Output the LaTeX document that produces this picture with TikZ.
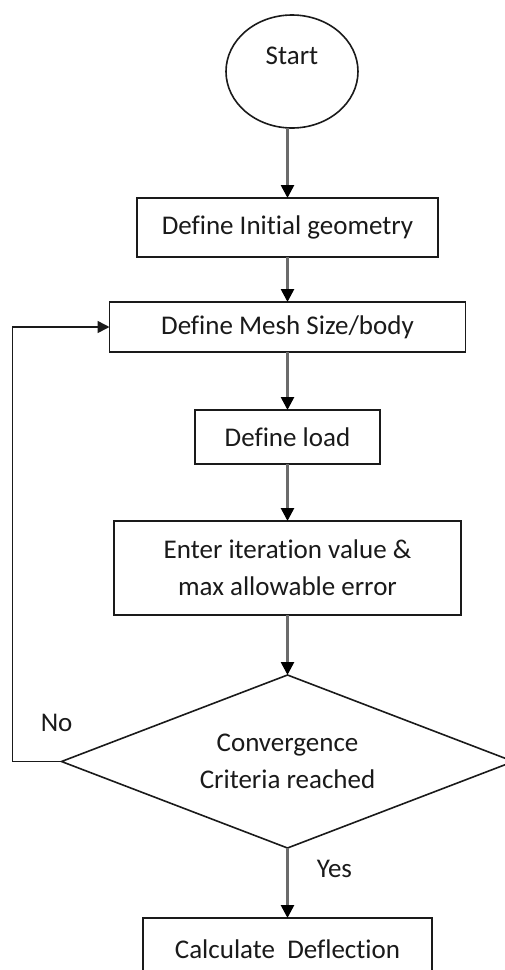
\documentclass[tikz,border=0pt]{standalone}
\usepackage{fontspec}
\setmainfont{Carlito}[Ligatures=CommonOff]
\usepackage{tikz}
\usetikzlibrary{arrows.meta,positioning,shapes.geometric}
\definecolor{cInk}{HTML}{1A1A1A}
\definecolor{cShaft}{HTML}{6B6B6B}
\tikzset{
  box/.style      ={rectangle,draw=cInk,line width=1.6pt,fill=white,
                    align=center,inner sep=0pt,outer sep=0pt,text=cInk,
                    font=\fontsize{27}{37}\selectfont},
  startnode/.style={box,ellipse,minimum width=132pt,minimum height=113pt,
                    text height=19pt,text depth=33pt},
  decision/.style ={box,diamond,aspect=2.6,minimum width=452pt,
                    minimum height=173pt},
  ar/.style       ={-{Triangle[length=13pt,width=13pt,color=black]},
                    line width=2.6pt,cShaft},
  back/.style     ={-{Triangle[length=12pt,width=12pt]},line width=1.6pt,cInk},
  lbl/.style      ={font=\fontsize{27}{37}\selectfont,text=cInk,inner sep=0pt},
}
\begin{document}
\begin{tikzpicture}[x=1pt,y=1pt]
\useasboundingbox (0,0) rectangle (504,-970);
\node[startnode] (start) at (292,-71.5) {Start};
\node[box,minimum width=301pt,minimum height=59pt,below=70pt of start,
      xshift=-4.5pt] (geom) {Define Initial geometry};
\node[box,minimum width=356pt,minimum height=50pt,below=45pt of geom] (mesh)
      {Define Mesh Size/body};
\node[box,minimum width=185pt,minimum height=54pt,below=58pt of mesh] (load)
      {Define load};
\node[box,minimum width=347pt,minimum height=94pt,below=57pt of load] (iter)
      {Enter iteration value \&\\ max allowable error};
\node[decision,below=60pt of iter] (conv) {Convergence\\ Criteria reached};
\node[box,minimum width=289pt,minimum height=62pt,below=70pt of conv] (defl)
      {Calculate\ \ Deflection};
\draw[ar] (start.south -| geom.north) -- (geom);
\draw[ar] (geom) -- (mesh);
\draw[ar] (mesh) -- (load);
\draw[ar] (load) -- (iter);
\draw[ar] (iter) -- (conv);
\draw[ar] (conv) -- node[lbl,pos=0.3,right=28pt]{Yes} (defl);
\draw[back] (conv.west) -- node[lbl,pos=0.1,above=29pt]{No} ++(-49,0)
      |- (mesh.west);
\end{tikzpicture}
\end{document}
